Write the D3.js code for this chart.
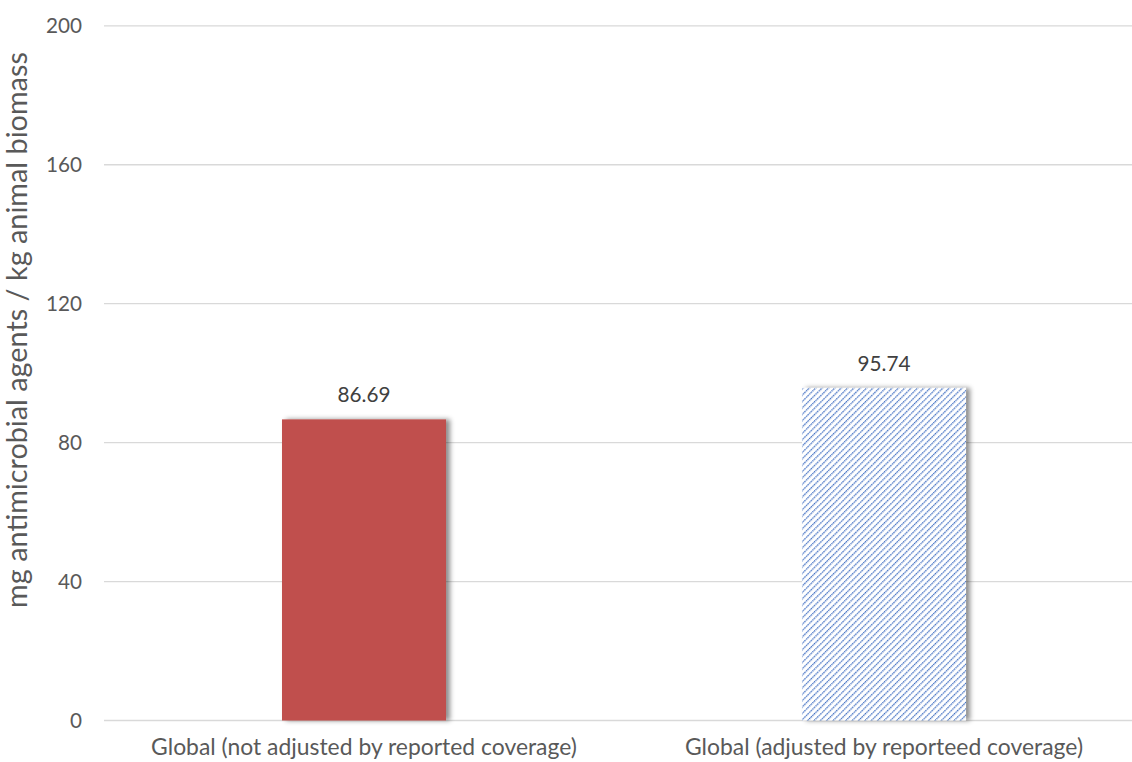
<!DOCTYPE html>
<html><head><meta charset="utf-8">
<script src="https://cdn.jsdelivr.net/npm/d3@7"></script>
<style>body{margin:0;background:#fff;}svg{display:block;}</style>
</head><body>
<svg id="c" width="1132" height="762"></svg>
<script>
const categories = ["Global (not adjusted by reported coverage)", "Global (adjusted by reporteed coverage)"];
const values = [86.69, 95.74];
const valueLabels = ["86.69", "95.74"];
const yTicks = [0, 40, 80, 120, 160, 200];
const yTitle = "mg antimicrobial agents / kg animal biomass";

const svg = d3.select("#c");
const font = "Lato, 'Open Sans', sans-serif";
const x = d3.scaleBand().domain(categories).range([104, 1144]).paddingInner(0.6846).paddingOuter(0.3423);
const y = d3.scaleLinear().domain([0, 200]).range([720.5, 25.8]);

function fit(sel, target) {
  const node = sel.node();
  const fs = parseFloat(node.style.fontSize);
  const w = node.getComputedTextLength();
  sel.style("font-size", (fs * target / w).toFixed(2) + "px");
}

const defs = svg.append("defs");
const pat = defs.append("pattern").attr("id","hatch").attr("patternUnits","userSpaceOnUse")
  .attr("width",4.5).attr("height",4.5).attr("patternTransform","rotate(45)");
pat.append("rect").attr("width",4.5).attr("height",4.5).attr("fill","#fff");
pat.append("line").attr("x1",0).attr("y1",0).attr("x2",0).attr("y2",4.5)
  .attr("stroke","#3F6EC2").attr("stroke-width",2.5).attr("stroke-dasharray","1.5,0.75");
const f = defs.append("filter").attr("id","sh").attr("x","-20%").attr("y","-20%").attr("width","150%").attr("height","140%");
f.append("feDropShadow").attr("dx",4).attr("dy",0).attr("stdDeviation",2.5).attr("flood-color","#000").attr("flood-opacity",0.45);

// gridlines
svg.append("g").selectAll("line").data(yTicks).join("line")
  .attr("x1",104).attr("x2",1144).attr("y1",d=>y(d)).attr("y2",d=>y(d))
  .attr("stroke","#d9d9d9").attr("stroke-width",1.3);

// y tick labels
const tl = svg.append("g").selectAll("text").data(yTicks).join("text")
  .attr("x",82).attr("y",d=>y(d)).attr("dy","0.36em").attr("text-anchor","end")
  .attr("fill","#595959").style("font-family",font).style("font-size","20px").text(d=>d);
fit(tl.filter(d=>d===200), 36);
tl.style("font-size", tl.filter(d=>d===200).style("font-size"));

// bars
svg.append("g").selectAll("rect").data(values).join("rect")
  .attr("x",(d,i)=>x(categories[i])).attr("width",x.bandwidth())
  .attr("y",d=>y(d)).attr("height",d=>y(0)-y(d))
  .attr("fill",(d,i)=> i===0 ? "#C0504D" : "url(#hatch)")
  .attr("filter","url(#sh)");

// value labels
const vl = svg.append("g").selectAll("text").data(values).join("text")
  .attr("x",(d,i)=>x(categories[i])+x.bandwidth()/2).attr("y",d=>y(d)-17)
  .attr("text-anchor","middle").attr("fill","#404040")
  .style("font-family",font).style("font-size","20px").text((d,i)=>valueLabels[i]);
fit(vl.filter((d,i)=>i===0), 53);
vl.style("font-size", vl.filter((d,i)=>i===0).style("font-size"));

// category labels
const cl = svg.append("g").selectAll("text").data(categories).join("text")
  .attr("x",d=>x(d)+x.bandwidth()/2).attr("y",755)
  .attr("text-anchor","middle").attr("fill","#595959")
  .style("font-family",font).style("font-size","20px").text(d=>d);
fit(cl.filter((d,i)=>i===0), 426);
cl.style("font-size", cl.filter((d,i)=>i===0).style("font-size"));

// y title
const tt = svg.append("text").attr("transform","translate(27,330) rotate(-90)")
  .attr("text-anchor","middle").attr("fill","#595959")
  .style("font-family",font).style("font-size","22px").text(yTitle);
fit(tt, 556);
</script>
</body></html>
